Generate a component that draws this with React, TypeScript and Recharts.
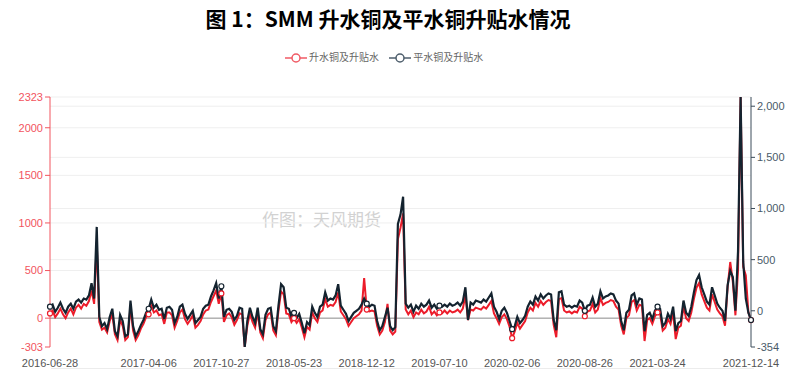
import { LineChart, Line, XAxis, YAxis, ReferenceLine } from "recharts"

// x-axis date labels and the point index each sits on
const dateLabels = ["2016-06-28", "2017-04-06", "2017-10-27", "2018-05-23", "2018-12-12", "2019-07-10", "2020-02-06", "2020-08-26", "2021-03-24", "2021-12-14"]
const labelIdx = [0, 38, 66, 94, 122, 150, 178, 206, 234, 270]

// 平水铜升贴水 (right axis), roughly weekly
const flatCopper = [
    40, 60, -10, 30, 80, 20, -20, 40, 70, 20,
    90, 110, 80, 120, 110, 150, 270, 120, 820, -60,
    -150, -120, -180, -60, 20, -200, -250, -40, -100, -250,
    -230, 100, -150, -250, -200, -140, -90, -20, 20, 110,
    30, 60, 10, 20, -80, 30, 40, 10, -120, -60,
    40, 60, -30, -80, -40, 0, -120, -90, -60, 20,
    50, 60, 140, 200, 270, 120, 240, -60, 10, 20,
    -10, -90, -50, 30, 20, -354, -100, 30, -60, -120,
    30, -180, -230, -40, 20, 30, -150, -200, 50, 260,
    230, 30, 20, -60, -20, -70, -30, -120, -220, -110,
    -140, 40, -20, -60, 40, 60, 180, 100, 120, 110,
    150, 260, 50, 10, -30, -100, -60, -20, 0, 20,
    60, 120, 70, 40, 60, 50, -100, -190, -150, -60,
    30, -150, -190, -160, 850, 940, 1115, 70, 30, 60,
    -10, 50, 20, 70, 40, 60, 100, 30, 60, 20,
    50, 40, 60, 40, 70, 50, 60, 80, 50, 90,
    230, -90, 80, 60, 100, 90, 80, 110, 90, 130,
    170, 40, -10, -80, 0, 30, -20, -100, -180, -150,
    -60, -120, -90, -50, 40, 90, 60, 140, 100, 160,
    120, 150, 170, 160, -90, -190, 180, 190, 60, 40,
    50, 30, 50, 40, 100, 80, 0, 50, 60, 130,
    40, 70, 190, 120, 140, 150, 170, 160, 100, 70,
    -100, -190, -20, 10, 150, 170, 60, 120, 110, -200,
    -40, -20, -80, 0, 40, 20, -150, -120, -30, -80,
    40, -200, -120, -100, 100, -20, -50, 40, 180, 300,
    350, 230, 160, 90, 60, 230, 150, 70, 30, 0,
    -100, 250, 390, 330, 0, 580, 2090, 480, 120, -20,
    -90,
]

// 升水铜升贴水 (left axis)
const premiumCopper = [
    50, 80, 10, 50, 100, 40, 0, 60, 100, 40,
    110, 140, 100, 150, 130, 180, 290, 150, 800, -40,
    -120, -100, -150, -30, 40, -170, -230, -20, -80, -230,
    -200, 120, -130, -230, -180, -110, -60, 10, 40, 130,
    60, 80, 30, 40, -60, 60, 60, 30, -100, -30,
    60, 90, -10, -60, -20, 30, -100, -70, -30, 40,
    80, 90, 170, 230, 290, 150, 260, -40, 30, 50,
    10, -70, -20, 50, 40, -303, -80, 50, -40, -100,
    60, -150, -210, -20, 40, 60, -130, -180, 80, 280,
    250, 50, 40, -40, 0, -50, -10, -100, -200, -90,
    -120, 60, 0, -40, 60, 80, 200, 120, 140, 130,
    170, 270, 70, 30, -10, -80, -40, 0, 20, 40,
    80, 420, 90, 70, 80, 70, -80, -170, -130, -40,
    150, -130, -170, -140, 830, 950, 1100, 90, 40, 80,
    10, 60, 40, 90, 50, 70, 120, 40, 70, 30,
    60, 50, 80, 50, 80, 60, 70, 90, 60, 100,
    240, -20, 90, 80, 110, 100, 90, 120, 100, 140,
    180, 50, 0, -60, 10, 40, -10, -90, -210, -140,
    -50, -110, -70, -30, 60, 110, 80, 160, 120, 180,
    140, 170, 190, 180, -70, -200, 200, 210, 80, 60,
    70, 50, 70, 60, 120, 100, 20, 70, 80, 150,
    60, 90, 210, 140, 160, 170, 190, 180, 120, 90,
    -80, -170, 0, 30, 170, 190, 80, 140, 130, -240,
    -20, 0, -60, 20, 60, 40, -130, -100, -10, -60,
    60, -220, -100, -80, 120, 0, -30, 60, 200, 320,
    370, 250, 180, 110, 80, 250, 170, 90, 50, 20,
    -80, 330, 590, 380, 30, 500, 2323, 540, 450, 60,
    -20,
]

const leftTicks = [-303, 0, 500, 1000, 1500, 2000, 2323]
const rightTicks = [-354, 0, 500, 1000, 1500, 2000]

const RED = "#ec1c2a"
const DARK = "#14232f"

const data = flatCopper.map((v, i) => ({ i, flat: v, premium: premiumCopper[i] }))

const makeDot = (color: string) => (props: any) => {
    const { cx, cy, index } = props
    if (!labelIdx.includes(index)) return <g key={`d${index}`} />
    return <circle key={`d${index}`} cx={cx} cy={cy} r={2.5} fill="#fff" stroke={color} strokeWidth={1.2} />
}

const LegendIcon = ({ color }: { color: string }) => (
    <svg width={22} height={12} style={{ verticalAlign: "middle" }}>
        <line x1={0} y1={6} x2={22} y2={6} stroke={color} strokeWidth={1.5} />
        <circle cx={11} cy={6} r={4} fill="#fff" stroke={color} strokeWidth={1.5} />
    </svg>
)

export default function App() {
    return (
        <div style={{ position: "absolute", left: 0, top: 0, width: 804, height: 391, background: "#fff", fontFamily: "'Liberation Sans', Arial, 'Noto Sans CJK SC', sans-serif" }}>
            <div style={{ position: "absolute", left: -14, top: 3, width: 804, textAlign: "center", fontFamily: "'Noto Sans CJK SC', sans-serif", fontWeight: 700, fontSize: 21, color: "#000" }}>
                图 1：SMM 升水铜及平水铜升贴水情况
            </div>
            <div style={{ position: "absolute", left: -18, top: 49, width: 804, textAlign: "center", fontFamily: "'Noto Sans CJK SC', sans-serif", fontSize: 10, color: "#666" }}>
                <LegendIcon color="#f05a64" /> <span style={{ marginRight: 10 }}>升水铜及升贴水</span>
                <LegendIcon color="#4e5e6c" /> <span>平水铜及升贴水</span>
            </div>
            <div style={{ position: "absolute", left: 262, top: 206, fontFamily: "'Noto Sans CJK SC', sans-serif", fontSize: 17, color: "#d2d2d2" }}>
                作图：天风期货
            </div>
            <div style={{ position: "absolute", left: 51, top: 368, width: 703, height: 1, background: "#ececec" }} />
            <LineChart width={804} height={391} data={data} margin={{ top: 97, right: 0, bottom: 10, left: 0 }}>
                <XAxis
                    dataKey="i"
                    type="number"
                    domain={[0, 270]}
                    ticks={labelIdx}
                    interval={0}
                    tickFormatter={(v: number) => dateLabels[labelIdx.indexOf(v)] ?? ""}
                    axisLine={false}
                    tickLine={false}
                    tickSize={10}
                    height={34}
                    tick={{ fill: "#555", fontSize: 11 }}
                />
                <YAxis
                    yAxisId="left"
                    domain={[-303, 2323]}
                    ticks={leftTicks}
                    interval={0}
                    width={50}
                    stroke="#f2545e"
                    tickSize={5}
                    tick={{ fill: "#f2545e", fontSize: 11 }}
                />
                <YAxis
                    yAxisId="right"
                    orientation="right"
                    domain={[-354, 2090]}
                    ticks={rightTicks}
                    interval={0}
                    width={53}
                    stroke="#3c4c5a"
                    tickSize={4}
                    tickFormatter={(v: number) => v.toLocaleString("en-US")}
                    tick={{ fill: "#4a5a68", fontSize: 11 }}
                />
                {[500, 1000, 1500, 2000, 2323].map((v) => (
                    <ReferenceLine key={`gl${v}`} yAxisId="left" y={v} stroke="#efefef" />
                ))}
                {[500, 1000, 1500, 2000].map((v) => (
                    <ReferenceLine key={`gr${v}`} yAxisId="right" y={v} stroke="#efefef" />
                ))}
                <ReferenceLine yAxisId="left" y={0} stroke="#8a8a8a" />
                <Line
                    yAxisId="left"
                    dataKey="premium"
                    stroke={RED}
                    strokeWidth={2}
                    dot={makeDot(RED)}
                    activeDot={false}
                    isAnimationActive={false}
                />
                <Line
                    yAxisId="right"
                    dataKey="flat"
                    stroke={DARK}
                    strokeWidth={2.2}
                    dot={makeDot(DARK)}
                    activeDot={false}
                    isAnimationActive={false}
                />
            </LineChart>
        </div>
    )
}
